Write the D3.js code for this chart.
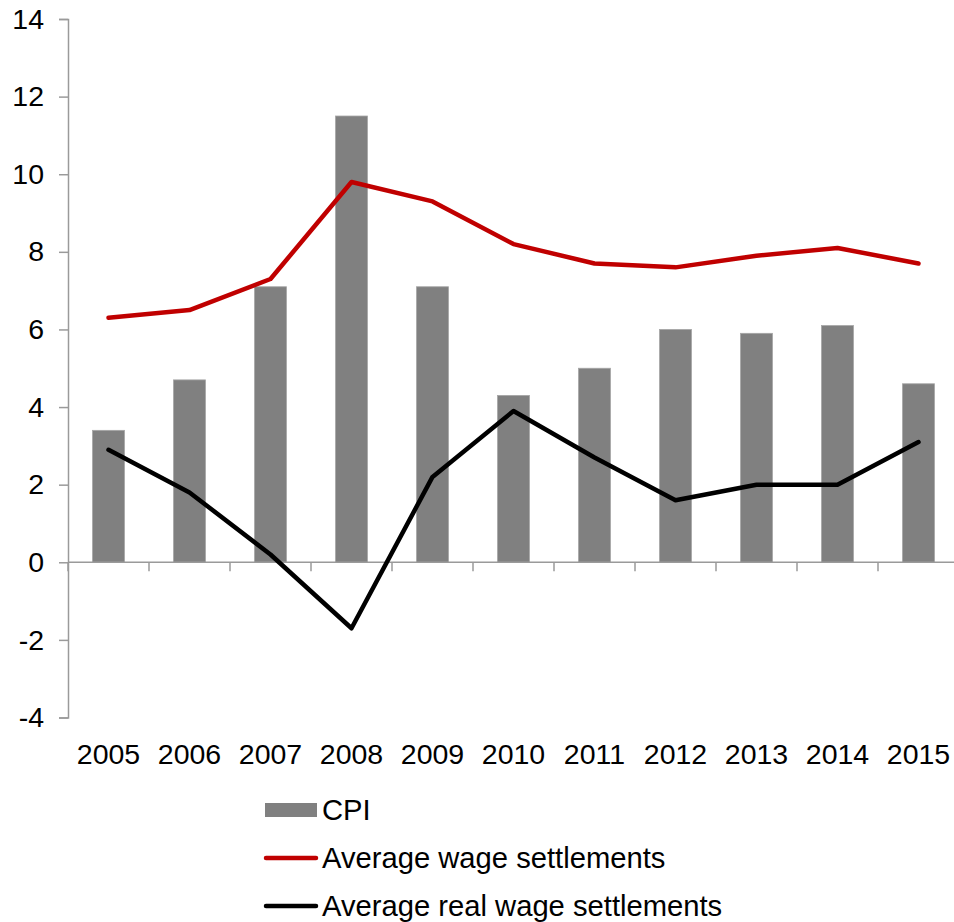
<!DOCTYPE html>
<html>
<head>
<meta charset="utf-8">
<script src="https://cdn.jsdelivr.net/npm/d3@7"></script>
<style>
  html, body { margin: 0; padding: 0; background: #fff; }
  svg { display: block; font-family: "Liberation Sans", Arial, sans-serif; }
</style>
</head>
<body>
<svg id="chart" width="954" height="922"></svg>
<script>
const years = ["2005","2006","2007","2008","2009","2010","2011","2012","2013","2014","2015"];
const cpi = [3.4, 4.7, 7.1, 11.5, 7.1, 4.3, 5.0, 6.0, 5.9, 6.1, 4.6];
const wageSettlements = [6.3, 6.5, 7.3, 9.8, 9.3, 8.2, 7.7, 7.6, 7.9, 8.1, 7.7];
const realWageSettlements = [2.9, 1.8, 0.2, -1.7, 2.2, 3.9, 2.7, 1.6, 2.0, 2.0, 3.1];
const yTicks = [-4, -2, 0, 2, 4, 6, 8, 10, 12, 14];
const legendLabels = ["CPI", "Average wage settlements", "Average real wage settlements"];

const svg = d3.select("#chart");
const plotLeft = 68, plotRight = 959, plotTop = 19, plotBottom = 717.5;
const axisColor = "#9a9a9a";
const fontSize = 28.5;

const xc = d3.scaleBand().domain(years).range([plotLeft, plotRight]);
const y = d3.scaleLinear().domain([-4, 14]).range([plotBottom, plotTop]);
const barWidth = 32;

// CPI bars
svg.append("g").selectAll("rect").data(years).join("rect")
  .attr("x", d => xc(d) + xc.bandwidth() / 2 - barWidth / 2)
  .attr("width", barWidth)
  .attr("y", (d, i) => y(Math.max(0, cpi[i])))
  .attr("height", (d, i) => Math.abs(y(cpi[i]) - y(0)))
  .attr("fill", "#808080")
  .attr("stroke", "#a6a6a6")
  .attr("stroke-width", 0.8);

// y axis
const yAxis = svg.append("g").attr("transform", `translate(${plotLeft},0)`)
  .call(d3.axisLeft(y).tickValues(yTicks).tickSize(9).tickPadding(15).tickFormat(d => String(d)));
yAxis.select(".domain").attr("stroke", axisColor).attr("stroke-width", 1.5);
yAxis.selectAll(".tick line").attr("stroke", axisColor).attr("stroke-width", 1.5);
yAxis.selectAll(".tick text").attr("font-size", fontSize).attr("fill", "#000")
  .attr("font-family", "Liberation Sans, Arial, sans-serif");

// category axis along zero
const xAxisG = svg.append("g").attr("transform", `translate(0,${y(0)})`);
xAxisG.append("line").attr("x1", plotLeft).attr("x2", plotRight).attr("stroke", axisColor).attr("stroke-width", 1.5);
xAxisG.selectAll("line.tk").data(years.concat(["end"])).join("line").attr("class", "tk")
  .attr("x1", (d, i) => plotLeft + i * xc.bandwidth()).attr("x2", (d, i) => plotLeft + i * xc.bandwidth())
  .attr("y1", 0).attr("y2", 9).attr("stroke", axisColor).attr("stroke-width", 1.5);

// year labels below the plot
svg.append("g").selectAll("text").data(years).join("text")
  .attr("x", d => xc(d) + xc.bandwidth() / 2)
  .attr("y", 764)
  .attr("text-anchor", "middle")
  .attr("font-size", fontSize)
  .text(d => d);

// wage lines
const line = d3.line().x((d, i) => xc(years[i]) + xc.bandwidth() / 2).y(d => y(d));
svg.append("path").datum(wageSettlements).attr("d", line)
  .attr("fill", "none").attr("stroke", "#C00000").attr("stroke-width", 4.5)
  .attr("stroke-linejoin", "round").attr("stroke-linecap", "round");
svg.append("path").datum(realWageSettlements).attr("d", line)
  .attr("fill", "none").attr("stroke", "#000").attr("stroke-width", 4.5)
  .attr("stroke-linejoin", "round").attr("stroke-linecap", "round");

// legend
const lg = svg.append("g");
const rows = [810, 858, 906];
lg.append("rect").attr("x", 265).attr("y", rows[0] - 7).attr("width", 52).attr("height", 14).attr("fill", "#808080");
lg.append("line").attr("x1", 266).attr("x2", 316).attr("y1", rows[1]).attr("y2", rows[1])
  .attr("stroke", "#C00000").attr("stroke-width", 4.5).attr("stroke-linecap", "round");
lg.append("line").attr("x1", 266).attr("x2", 316).attr("y1", rows[2]).attr("y2", rows[2])
  .attr("stroke", "#000").attr("stroke-width", 4.5).attr("stroke-linecap", "round");
lg.selectAll("text").data(legendLabels).join("text")
  .attr("x", 322).attr("y", (d, i) => rows[i] + 10)
  .attr("font-size", 29.2).text(d => d);
</script>
</body>
</html>
